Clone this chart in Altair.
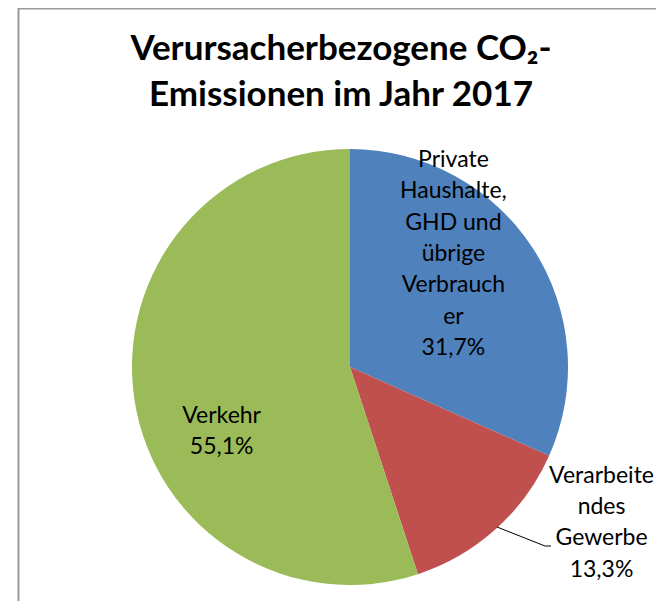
import altair as alt
import pandas as pd

# ---- data ----
categories = [
    "Private Haushalte, GHD und übrige Verbraucher",
    "Verarbeitendes Gewerbe",
    "Verkehr",
]
# category names as wrapped in the original chart
wrapped_names = [
    "Private\nHaushalte,\nGHD und\nübrige\nVerbrauch\ner",
    "Verarbeite\nndes\nGewerbe",
    "Verkehr",
]
values = [31.7, 13.3, 55.1]
colors = ["#4F81BD", "#C0504D", "#9BBB59"]
title_lines = ["Verursacherbezogene CO₂-", "Emissionen im Jahr 2017"]

df = pd.DataFrame({
    "idx": list(range(len(categories))),
    "cat": categories,
    "wrapped": wrapped_names,
    "value": values,
})
total = sum(values)

FONT = "Lato"
CX, CY, R = 342, 359, 218

theta_scale = alt.Scale(domain=[0, total])

base = alt.Chart(df)

pie = base.mark_arc(outerRadius=R, stroke=None).encode(
    theta=alt.Theta("value:Q", stack=True, scale=theta_scale),
    order=alt.Order("idx:Q"),
    color=alt.Color("cat:N", scale=alt.Scale(domain=categories, range=colors), legend=None),
    x=alt.value(CX),
    y=alt.value(CY),
)

labelled = (
    base.transform_stack(
        stack="value", groupby=[], as_=["v0", "v1"],
        sort=[alt.SortField("idx", order="ascending")],
    )
    .transform_calculate(
        mid="(datum.v0 + datum.v1) / 2",
        label="datum.wrapped + '\\n' + replace(format(datum.value, '.1f'), '.', ',') + '%'",
    )
)

def label_layer(cat, radius, dx, dy):
    return labelled.transform_filter(alt.datum.cat == cat).mark_text(
        font=FONT, fontSize=23, color="#000000", align="center",
        baseline="alphabetic", lineBreak="\n", lineHeight=31.4, dx=dx, dy=dy,
    ).encode(
        theta=alt.Theta("mid:Q", scale=theta_scale),
        radius=alt.value(radius),
        text="label:N",
        x=alt.value(CX),
        y=alt.value(CY),
    )

lab_blue = label_layer(categories[0], 140, -14, -124)
lab_red = label_layer(categories[1], 250, 84, -70)
lab_green = label_layer(categories[2], 130, 0, 35)

one = alt.Chart(pd.DataFrame({"a": [0]}))

leader1 = one.mark_rule(color="#000000", strokeWidth=1).encode(
    x=alt.value(489), y=alt.value(519), x2=alt.value(537), y2=alt.value(538))
leader2 = one.mark_rule(color="#000000", strokeWidth=1).encode(
    x=alt.value(537), y=alt.value(538), x2=alt.value(543), y2=alt.value(538))

border_left = one.mark_rule(color="#9a9a9a", strokeWidth=2).encode(
    x=alt.value(10.5), y=alt.value(0), y2=alt.value(700))
border_top = one.mark_rule(color="#9a9a9a", strokeWidth=2).encode(
    x=alt.value(10), x2=alt.value(900), y=alt.value(0.5))

title = one.transform_calculate(t="'" + title_lines[0] + "\\n" + title_lines[1] + "'").mark_text(
    font=FONT, fontSize=35, fontWeight="bold", color="#000000", align="center",
    baseline="alphabetic", lineBreak="\n", lineHeight=46,
).encode(text="t:N", x=alt.value(333), y=alt.value(52))

chart = alt.layer(
    pie, lab_blue, lab_red, lab_green, leader1, leader2, border_left, border_top, title
).properties(
    width=648, height=593, autosize=alt.AutoSizeParams(type="none"), padding=0,
    background="#ffffff",
).configure_view(stroke=None)

chart.save("out.html", embed_options={"renderer": "svg", "actions": False})
